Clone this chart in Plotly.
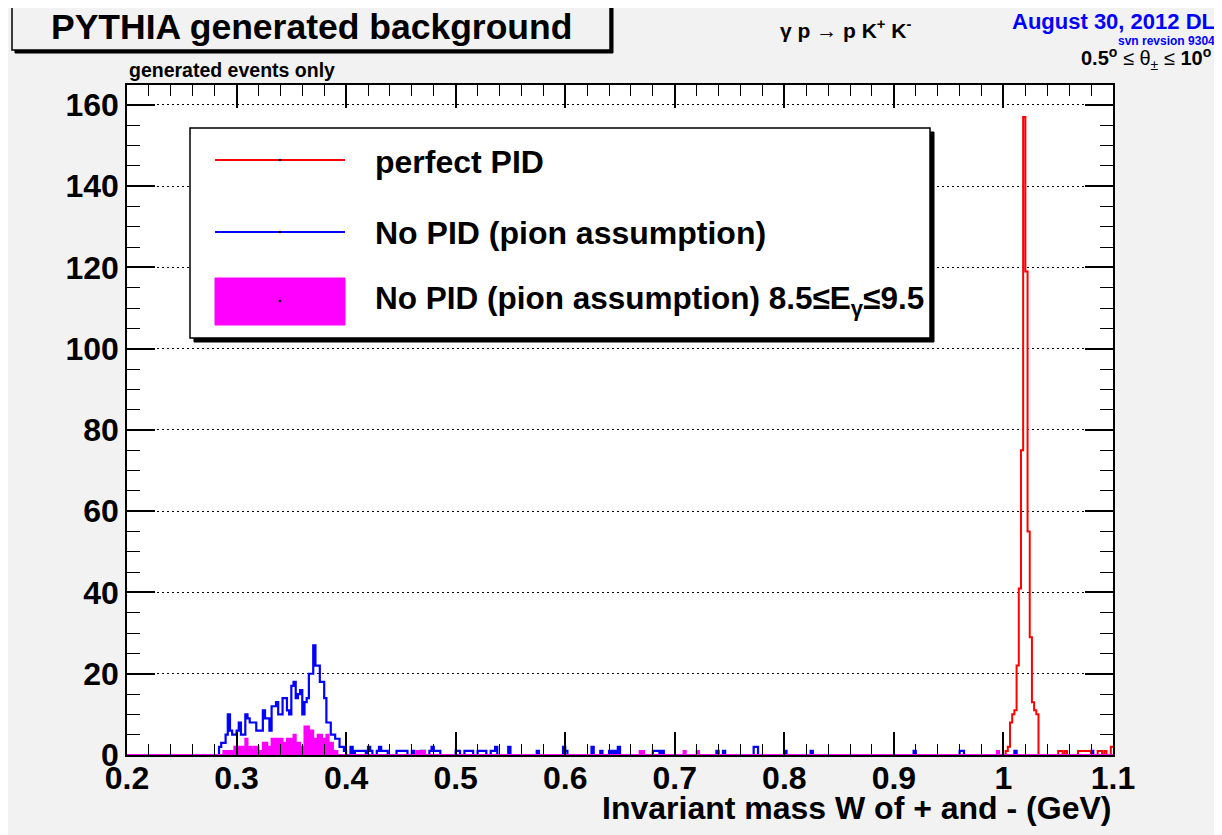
import numpy as np
import plotly.graph_objects as go

# ---------------- data (histograms, bin width 0.002 GeV from 0.2 to 1.1) ----------------
x_min, x_max, bin_width = 0.2, 1.1, 0.002
n_bins = 450

# perfect PID (red)
red_bins = [401, 402, 403, 404, 405, 406, 407, 408, 409, 410, 411, 412, 413, 414, 415,
            425, 426, 428, 434, 435, 436, 437, 438, 439, 443, 444, 446, 449]
red_counts = [1, 2, 8, 10, 11, 22, 41, 75, 157, 119, 55, 29, 13, 11, 10,
              1, 1, 1, 1, 1, 1, 1, 1, 1, 1, 1, 1, 2]

# No PID, pion assumption (blue)
blue_main_start = 42
blue_main_counts = [2, 3, 3, 5, 10, 6, 5, 5, 6, 8, 5, 5, 10, 9, 8, 8, 8, 6, 6, 6,
                    11, 9, 9, 6, 12, 12, 13, 10, 10, 14, 14, 11, 10, 17, 18, 14, 15, 16, 10, 13,
                    14, 20, 20, 27, 22, 22, 18, 18, 14, 8, 8, 5, 5, 4, 4, 2, 2, 1, 0, 0, 2]
blue_tail_bins = [104, 105, 106, 107, 108, 110, 111, 114, 115, 116, 117, 118,
                  123, 124, 125, 126, 127, 130, 134, 135, 138, 139, 140, 141, 142,
                  150, 151, 154, 155, 156, 157, 160, 161, 162, 163, 166, 167, 168,
                  174, 187, 199, 200, 212, 216, 220, 222, 224, 240, 241, 242, 244,
                  269, 272, 286, 287, 300, 312, 359, 380, 381, 405, 440]
blue_tail_counts = [1, 1, 1, 1, 1, 2, 1, 1, 2, 1, 1, 1,
                    1, 1, 1, 1, 1, 1, 1, 1, 1, 2, 1, 1, 1,
                    1, 1, 1, 1, 1, 1, 1, 1, 1, 1, 1, 1, 2,
                    2, 1, 2, 1, 2, 1, 1, 1, 2, 1, 1, 1, 1,
                    1, 1, 2, 2, 1, 1, 1, 1, 1, 1, 1]

# No PID, 8.5 <= E_gamma <= 9.5 (magenta, filled)
mag_main_start = 44
mag_main_counts = [1, 1, 1, 1, 1, 2, 2, 2, 2, 2, 4, 2, 2, 1, 2, 2, 1, 1, 3, 3,
                   2, 2, 4, 4, 4, 4, 4, 3, 3, 4, 4, 4, 5, 3, 3, 2, 2, 7, 7, 6,
                   6, 4, 4, 5, 5, 4, 4, 5, 3, 3, 1, 1]
mag_tail_bins = [132, 133, 135, 234, 235, 254, 260, 397]
mag_tail_counts = [1, 1, 1, 1, 1, 1, 1, 1]

x_tick_vals = [0.2, 0.3, 0.4, 0.5, 0.6, 0.7, 0.8, 0.9, 1.0, 1.1]
y_tick_vals = [0, 20, 40, 60, 80, 100, 120, 140, 160]

# ---------------- build histograms ----------------
def fill_hist(pairs):
    arr = np.zeros(n_bins)
    for b, c in pairs:
        arr[b] = c
    return arr

red_h = fill_hist(zip(red_bins, red_counts))
blue_h = fill_hist(list(zip(range(blue_main_start, blue_main_start + len(blue_main_counts)), blue_main_counts))
                   + list(zip(blue_tail_bins, blue_tail_counts)))
mag_h = fill_hist(list(zip(range(mag_main_start, mag_main_start + len(mag_main_counts)), mag_main_counts))
                  + list(zip(mag_tail_bins, mag_tail_counts)))

edges = x_min + bin_width * np.arange(n_bins + 1)

def step_y(arr):
    return np.append(arr, arr[-1])

fig = go.Figure()
fig.add_trace(go.Scatter(x=edges, y=step_y(blue_h), mode="lines", line_shape="hv",
                         line=dict(color="#0000ff", width=2.2), name="No PID (pion assumption)"))
fig.add_trace(go.Scatter(x=edges, y=step_y(red_h), mode="lines", line_shape="hv",
                         line=dict(color="#ff0000", width=2), name="perfect PID"))
fig.add_trace(go.Scatter(x=edges, y=step_y(mag_h), mode="lines", line_shape="hv",
                         fill="tozeroy", fillcolor="#ff00ff",
                         line=dict(color="#ff00ff", width=2), name="No PID 8.5-9.5"))

# ---------------- layout helpers (window pixel -> paper) ----------------
OFF = 8                      # page body margin of the html page
W_, H_ = 1222 - OFF, 835 - OFF
L, R, T, B = 127, 1113, 85, 755   # plot frame in window pixels
def px(x):
    return (x - L) / (R - L)
def py(y):
    return (B - y) / (B - T)

FONT = "Liberation Sans, Arial, sans-serif"

shapes = []
def rect(x0, y0, x1, y1, fill, line_color="black", lw=1):
    shapes.append(dict(type="rect", xref="paper", yref="paper",
                       x0=px(x0), x1=px(x1), y0=py(y1), y1=py(y0),
                       fillcolor=fill, line=dict(color=line_color, width=lw), layer="above"))
def hline(x0, x1, y, color, lw):
    shapes.append(dict(type="line", xref="paper", yref="paper",
                       x0=px(x0), x1=px(x1), y0=py(y), y1=py(y),
                       line=dict(color=color, width=lw), layer="above"))

# title box with shadow
rect(15, 8, 613, 53, "black", "black", 1)
rect(12, 5, 610, 50, "#f2f2f2", "black", 1.5)
# legend box with shadow
rect(194, 132, 934, 342, "black", "black", 1)
rect(190, 128, 930, 338, "white", "black", 1.5)
hline(215, 345, 160, "#ff0000", 2)
hline(215, 345, 232, "#0000ff", 2)
rect(215, 278, 345, 325, "#ff00ff", "#ff00ff", 1)
for yy in (160, 232, 301):
    rect(279, yy - 0.7, 281, yy + 0.7, "black", "black", 0.5)

annotations = []
def text(x, y, s, size, color="black", xanchor="left", yanchor="middle"):
    annotations.append(dict(xref="paper", yref="paper", x=px(x), y=py(y), text=s,
                            showarrow=False, xanchor=xanchor, yanchor=yanchor,
                            font=dict(family=FONT, size=size, color=color)))

text(311, 27, "<b>PYTHIA generated background</b>", 35.5, xanchor="center")
text(127, 70, "<b>generated events only</b>", 19.5)
text(845, 29, "<b>γ p → p K<sup>+</sup> K<sup>-</sup></b>", 21, xanchor="center")
text(1217, 22, "<b>August 30, 2012 DL</b>", 22, color="#0000ff", xanchor="right")
text(1217, 41, "<b>svn revsion 9304</b>", 12, color="#0000ff", xanchor="right")
text(1219, 58, "<b>0.5<sup>o</sup></b> ≤ θ<sub>±</sub> ≤ <b>10<sup>o</sup> </b>", 20, xanchor="right")
text(373, 162, "<b>perfect PID</b>", 32)
text(373, 233, "<b>No PID (pion assumption)</b>", 32)
text(373, 300, "<b>No PID (pion assumption) 8.5≤E<sub>γ</sub>≤9.5</b>", 31.5)
text(1113, 808, "<b>Invariant mass W of + and - (GeV)</b>", 32, xanchor="right")

fig.update_layout(
    width=W_, height=H_,
    margin=dict(l=L - OFF, r=W_ - (R - OFF), t=T - OFF, b=H_ - (B - OFF)),
    paper_bgcolor="#f2f2f2", plot_bgcolor="white",
    showlegend=False,
    shapes=shapes, annotations=annotations,
    font=dict(family=FONT, color="black"),
)
fig.update_xaxes(range=[x_min, x_max], tickvals=x_tick_vals,
                 ticktext=[f"{v:g}" for v in x_tick_vals],
                 ticks="inside", ticklen=23, tickwidth=1.5, tickcolor="black",
                 showline=True, linecolor="black", linewidth=1.5, mirror="ticks",
                 showgrid=False, zeroline=False, ticklabelstandoff=-6,
                 tickfont=dict(family=FONT, size=32, color="black", weight="bold"),
                 minor=dict(dtick=0.02, tick0=0.2, ticks="inside", ticklen=11, tickcolor="black",
                            tickwidth=1.2, showgrid=False))
fig.update_yaxes(range=[0, 164.9], tickvals=y_tick_vals,
                 ticks="inside", ticklen=28, tickwidth=1.5, tickcolor="black",
                 showline=True, linecolor="black", linewidth=1.5, mirror="ticks",
                 showgrid=True, gridcolor="black", griddash="2px,3px", gridwidth=1,
                 zeroline=False, ticklabelstandoff=0,
                 tickfont=dict(family=FONT, size=32, color="black", weight="bold"),
                 minor=dict(dtick=5, tick0=0, ticks="inside", ticklen=13, tickcolor="black",
                            tickwidth=1.2, showgrid=False))

fig.write_html("out.html")
